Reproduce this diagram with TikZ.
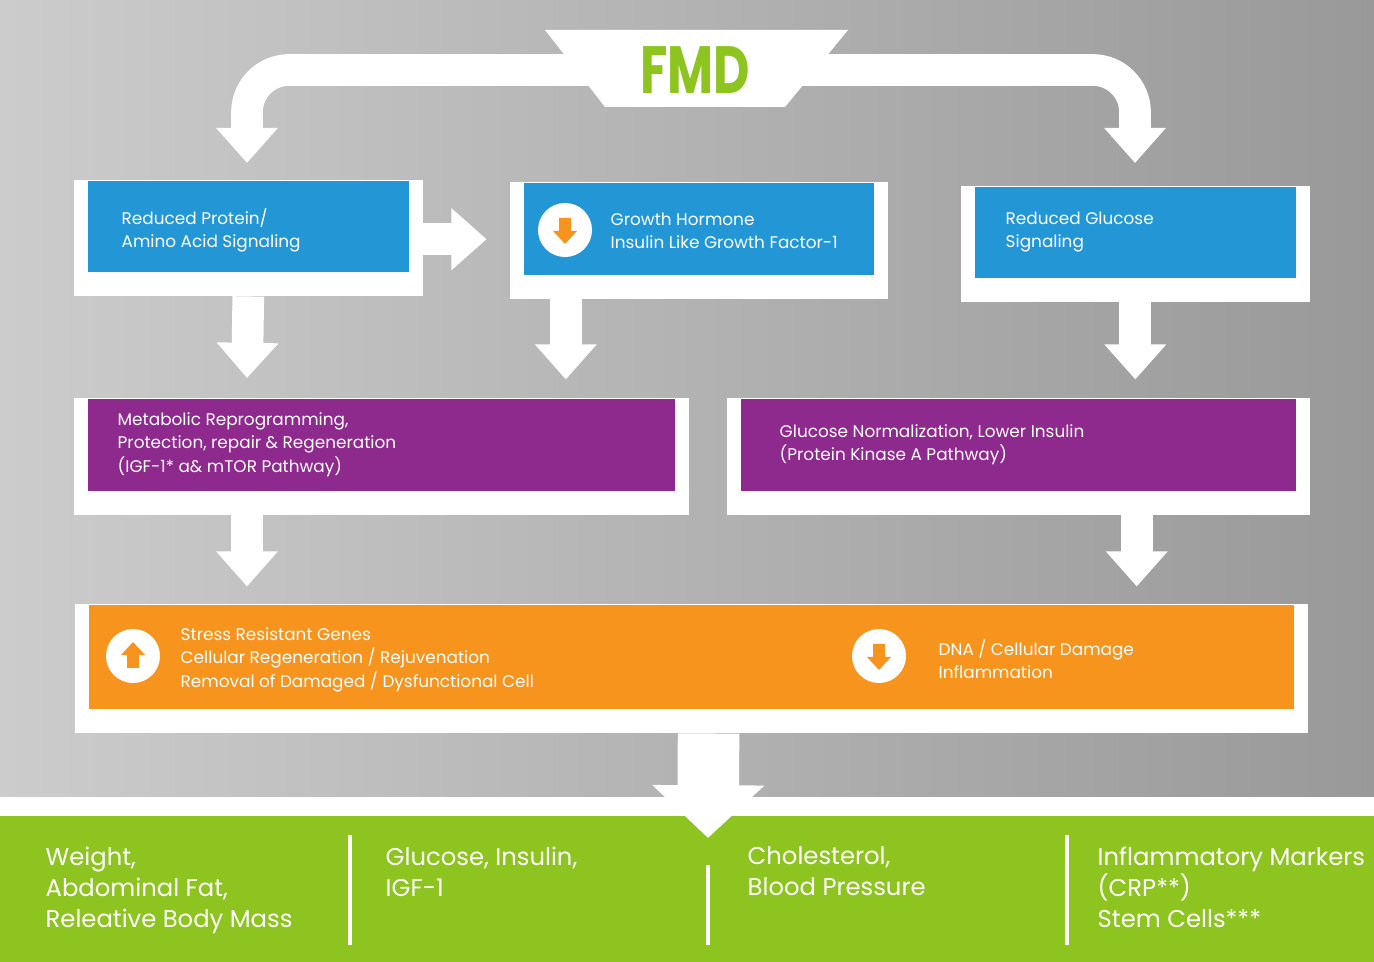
\documentclass[tikz,border=0pt]{standalone}
\usepackage{fontspec}
\setmainfont{Poppins}
\usetikzlibrary{calc,positioning,arrows.meta,backgrounds}
\definecolor{fmdgreen}{HTML}{8DC41F}
\definecolor{boxblue}{HTML}{2397D6}
\definecolor{boxpurple}{HTML}{8E298E}
\definecolor{boxorange}{HTML}{F7941D}
\tikzset{
  flow/.style={draw=white, line width=9pt, -{Triangle[width=17pt,length=10pt]}},
  panel/.style={draw=none, inner sep=0pt, anchor=north west},
  lbl/.style={text=white, align=left, anchor=west, inner sep=0pt, font=\fontsize{4.8}{6.6}\selectfont},
  res/.style={text=white, align=left, anchor=north west, inner sep=0pt, font=\fontsize{6.9}{8.9}\selectfont},
  icon/.style={circle, fill=white, minimum size=0.54cm, inner sep=0pt}
}
\newcommand{\frameit}[1]{\fill[white] ($(#1.north west)+(-13,0)$) rectangle ($(#1.south east)+(13,24)$);}
\newcommand{\downicon}[1]{\fill[boxorange] ($(#1)+(-6,-12)$) -- ++(12,0) -- ++(0,13) -- ++(6,0) -- ++(-12,13) -- ++(-12,-13) -- ++(6,0) -- cycle;}
\newcommand{\upicon}[1]{\fill[boxorange] ($(#1)+(-6,12)$) -- ++(12,0) -- ++(0,-13) -- ++(6,0) -- ++(-12,-13) -- ++(-12,13) -- ++(6,0) -- cycle;}
\begin{document}
\begin{tikzpicture}[x=0.01cm, y=-0.01cm]
\useasboundingbox (0,0) rectangle (1374,962);

% boxes
\node[panel, fill=boxblue, minimum width=3.21cm, minimum height=0.91cm] (b1) at (87,180) {};
\node[panel, fill=boxblue, minimum width=3.50cm, minimum height=0.92cm] (b2) at (523,182) {};
\node[panel, fill=boxblue, minimum width=3.21cm, minimum height=0.91cm] (b3) at (974,186) {};
\node[panel, fill=boxpurple, minimum width=5.87cm, minimum height=0.92cm] (p1) at (87,398) {};
\node[panel, fill=boxpurple, minimum width=5.55cm, minimum height=0.92cm] (p2) at (740,398) {};
\node[panel, fill=boxorange, minimum width=12.05cm, minimum height=1.04cm] (o1) at (88,604) {};
\coordinate (fmd) at (695,70);
\coordinate (tl) at (247,163);
\coordinate (tr) at (1135,163);

\begin{scope}[on background layer]
  % background
  \shade[left color=black!20!white, right color=black!40!white] (0,0) rectangle (1374,800);
  \fill[white] (0,797) rectangle (1374,816);
  \fill[fmdgreen] (0,816) rectangle (1374,962);
  \frameit{b1} \frameit{b2} \frameit{b3}
  \frameit{p1} \frameit{p2} \frameit{o1}
\end{scope}

% connectors
\draw[flow, rounded corners=12pt] (fmd) -| (tl);
\draw[flow, rounded corners=12pt] (fmd) -| (tr);
\fill[white] (545,30) -- (848,30) -- (785,107) -- (605,107) -- cycle;
\node[font=\bfseries\fontsize{19}{19}\selectfont, text=fmdgreen, xscale=0.75] (fmdt) at (fmd) {FMD};
\draw[flow] ($(b1.east)+(13,13)$) -- ++(64,0);
\draw[flow] ($(b1.south)+(0,24)$) -- ($(p1.north west)+(160,-20)$);
\draw[flow] ($(b2.south)+(-133,24)$) -- ++(0,80);
\draw[flow] ($(b3.south)+(0,24)$) -- ++(0,77);
\draw[flow] ($(p1.south west)+(160,24)$) -- ++(0,71);
\draw[flow] ($(p2.south east)+(-160,24)$) -- ++(0,71);
\coordinate (mid) at (708,838);
\draw[draw=white, line width=17.5pt, -{Triangle[width=31pt,length=15pt]}] ($(o1.south)+(17,24)$) -- (mid);

% labels
\node[lbl] at ($(b1.west)+(34,4)$) {Reduced Protein/\\Amino Acid Signaling};
\node[icon] (i1) at (565,230) {};
\downicon{i1}
\node[lbl] at ($(b2.west)+(87,2)$) {Growth Hormone\\Insulin Like Growth Factor-1};
\node[lbl] at ($(b3.west)+(31,0)$) {Reduced Glucose\\Signaling};
\node[lbl] at ($(p1.west)+(30,0)$) {Metabolic Reprogramming,\\Protection, repair \& Regeneration\\(IGF-1* a\& mTOR Pathway)};
\node[lbl] at ($(p2.west)+(39,0)$) {Glucose Normalization, Lower Insulin\\(Protein Kinase A Pathway)};
\node[icon] (i2) at (133,656) {};
\upicon{i2}
\node[lbl] at ($(o1.west)+(92,3)$) {Stress Resistant Genes\\Cellular Regeneration / Rejuvenation\\Removal of Damaged / Dysfunctional Cell};
\node[icon] (i3) at (879,656) {};
\downicon{i3}
\node[lbl] at ($(i3)+(59,3)$) {DNA / Cellular Damage\\Inflammation};

% results
\node[res] (r1) at (45,846) {Weight,\\Abdominal Fat,\\Releative Body Mass};
\node[res] (r2) at (385,846) {Glucose, Insulin,\\IGF-1};
\node[res] (r3) at (747,846) {Cholesterol,\\Blood Pressure};
\node[res] (r4) at (1097,846) {Inflammatory Markers\\(CRP**)\\Stem Cells***};
\draw[white, line width=1.2pt] (350,835) -- (350,945);
\draw[white, line width=1.2pt] (708,865) -- (708,945);
\draw[white, line width=1.2pt] (1067,835) -- (1067,945);
\end{tikzpicture}
\end{document}
